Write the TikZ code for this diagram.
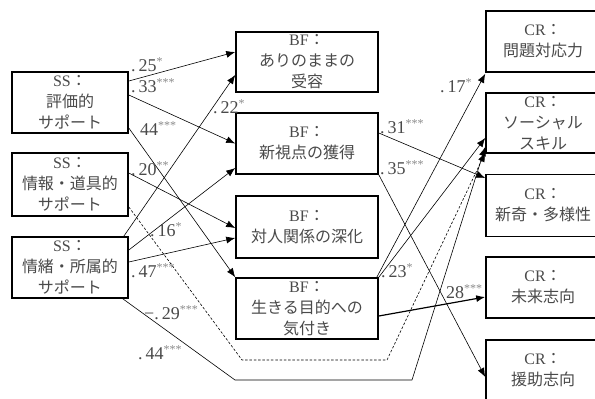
\documentclass[tikz,border=0pt]{standalone}
\usepackage{fontspec}
\setmainfont{Liberation Serif}
\newfontfamily\jp{Noto Sans CJK JP}
\usetikzlibrary{arrows.meta}
\definecolor{txt}{HTML}{4A4A4A}
\definecolor{star}{HTML}{8A8A8A}
\newcommand{\J}[1]{{\jp #1}}
\newcommand{\lab}[2]{#1\raisebox{5.5pt}{\fontsize{12}{12}\selectfont\color{star}#2}}
\begin{document}
\begin{tikzpicture}[x=1pt,y=-1pt,
  box/.style={draw=black, line width=1.6pt, minimum height=61pt, inner sep=0pt, align=center, text=txt, font=\fontsize{16}{21}\selectfont},
  ssbox/.style={box, minimum width=116pt},
  bfbox/.style={box, minimum width=142pt},
  crbox/.style={box, minimum width=114pt},
  conn/.style={line width=0.6pt, -{Latex[length=9pt,width=7pt]}},
  negconn/.style={conn, dash pattern=on 2.5pt off 1.8pt},
  lbl/.style={anchor=base west, inner sep=0pt, text=txt, font=\fontsize{18}{18}\selectfont}]
\useasboundingbox (0,0) rectangle (595,399);
\fill[white] (0,0) rectangle (595,399);
% SS
\node[ssbox] (ss1) at (70,102.5) {SS\J{：}\\\J{評価的}\\\J{サポート}};
\node[ssbox, minimum height=63pt] (ss2) at (70,184.5) {SS\J{：}\\\J{情報・道具的}\\\J{サポート}};
\node[ssbox] (ss3) at (70,267.5) {SS\J{：}\\\J{情緒・所属的}\\\J{サポート}};
% BF
\node[bfbox, minimum height=60pt] (bf1) at (307,62) {BF\J{：}\\\J{ありのままの}\\\J{受容}};
\node[bfbox] (bf2) at (307,143.5) {BF\J{：}\\\J{新視点の獲得}};
\node[bfbox, minimum height=62pt] (bf3) at (307,227) {BF\J{：}\\\J{対人関係の深化}};
\node[bfbox] (bf4) at (307,308.5) {BF\J{：}\\\J{生きる目的への}\\\J{気付き}};
% CR
\node[crbox] (cr1) at (543,41.5) {CR\J{：}\\\J{問題対応力}};
\node[crbox, minimum height=60pt] (cr2) at (543,123) {CR\J{：}\\\J{ソーシャル}\\\J{スキル}};
\node[crbox, minimum height=62pt] (cr3) at (543,205.5) {CR\J{：}\\\J{新奇・多様性}};
\node[crbox] (cr4) at (543,287.5) {CR\J{：}\\\J{未来志向}};
\node[crbox] (cr5) at (543,370.5) {CR\J{：}\\\J{援助志向}};
% connectors SS -> BF
\draw[conn] ([yshift=21.5pt]ss1.east) -- ([yshift=10pt]bf1.west);
\draw[conn] ([yshift=7.5pt]ss1.east) -- ([yshift=0pt]bf2.west);
\draw[conn] ([yshift=-25.5pt]ss1.east) -- (bf4.north west);
\draw[conn] ([yshift=11.5pt]ss2.east) -- ([yshift=-1pt]bf3.west);
\draw[conn] ([xshift=-5pt]ss3.north east) -- ([yshift=-13pt]bf1.west);
\draw[conn] ([yshift=17.5pt]ss3.east) -- ([yshift=-24.5pt]bf2.west);
\draw[conn] ([yshift=5.5pt]ss3.east) -- ([yshift=-11pt]bf3.west);
% long SS -> CR
\draw[negconn] ([yshift=-22.5pt]ss2.east) -- (242,360) -- (387,360) -- ([yshift=1pt]cr2.south west);
\draw[conn] ([xshift=-6pt]ss3.south east) -- (235,380) -- (412,380) -- ([yshift=-24pt]cr2.west);
% BF -> CR
\draw[conn] ([yshift=10.5pt]bf2.east) -- ([yshift=27.5pt]cr3.west);
\draw[conn] (bf2.south east) -- ([yshift=-6.5pt]cr5.west);
\draw[conn] ([xshift=-2pt]bf4.north east) -- ([yshift=-1pt]cr1.south west);
\draw[conn] (bf4.north east) -- ([yshift=-15pt]cr2.west);
\draw[conn, line width=1.2pt] ([yshift=-7.5pt]bf4.east) -- ([yshift=-9.5pt]cr4.west);
% labels
\node[lbl] (l25) at (131,71) {\lab{.\kern3pt 25}{*}};
\node[lbl] (l33) at (131,92) {\lab{.\kern3pt 33}{***}};
\node[lbl] (l44a) at (140,135) {\lab{44}{***}};
\node[lbl] (l20) at (131,175) {\lab{.\kern3pt 20}{**}};
\node[lbl] (l22) at (213,113) {\lab{.\kern3pt 22}{*}};
\node[lbl] (l16) at (150,236) {\lab{.\kern3pt 16}{*}};
\node[lbl] (l47) at (131,277) {\lab{.\kern3pt 47}{***}};
\node[lbl] (l29) at (144,319) {\lab{−.\kern3pt 29}{***}};
\node[lbl] (l44b) at (138,359) {\lab{.\kern3pt 44}{***}};
\node[lbl] (l31) at (380,133) {\lab{.\kern3pt 31}{***}};
\node[lbl] (l35) at (380,174) {\lab{.\kern3pt 35}{***}};
\node[lbl] (l17) at (440,92) {\lab{.\kern3pt 17}{*}};
\node[lbl] (l23) at (381,277) {\lab{.\kern3pt 23}{*}};
\node[lbl] (l28) at (446,298) {\lab{28}{***}};
\end{tikzpicture}
\end{document}
